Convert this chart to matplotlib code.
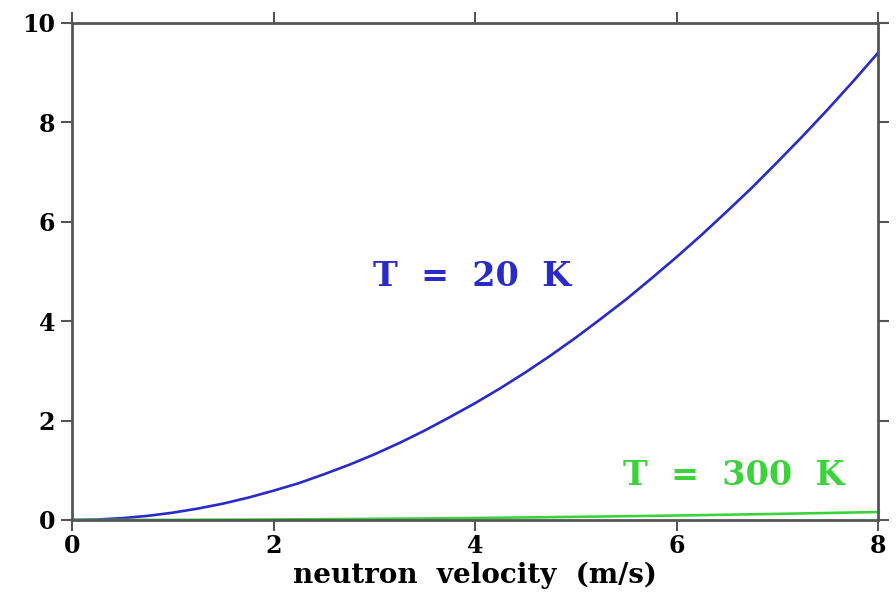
import numpy as np
import matplotlib
matplotlib.use('Agg')
import matplotlib.pyplot as plt

# neutron velocity (m/s)
velocity = [0, 0.25, 0.5, 0.75, 1, 1.25, 1.5, 1.75, 2, 2.25, 2.5, 2.75, 3,
            3.25, 3.5, 3.75, 4, 4.25, 4.5, 4.75, 5, 5.25, 5.5, 5.75, 6,
            6.25, 6.5, 6.75, 7, 7.25, 7.5, 7.75, 8]
# T = 20 K curve
f_20K = [0, 0.009, 0.037, 0.083, 0.147, 0.23, 0.33, 0.45, 0.59, 0.74, 0.92,
         1.11, 1.32, 1.55, 1.80, 2.07, 2.35, 2.65, 2.97, 3.31, 3.67, 4.05,
         4.44, 4.86, 5.29, 5.74, 6.21, 6.69, 7.20, 7.72, 8.26, 8.82, 9.40]
# T = 300 K curve
velocity_300 = [0, 0.5, 1, 1.5, 2, 2.5, 3, 3.5, 4, 4.5, 5, 5.5, 6, 6.5, 7, 7.5, 8]
f_300K = [0, 0.0006, 0.0025, 0.0057, 0.010, 0.016, 0.023, 0.031, 0.040, 0.051,
          0.063, 0.076, 0.090, 0.106, 0.123, 0.141, 0.160]

xticks = [0, 2, 4, 6, 8]
yticks = [0, 2, 4, 6, 8, 10]

plt.rcParams['font.family'] = ['DejaVu Serif']
plt.rcParams['font.weight'] = 'bold'

fig = plt.figure(figsize=(8.96, 5.97), dpi=100)
ax = fig.add_axes([0.0804, 0.129, 0.8996, 0.8325])

ax.plot(velocity, f_20K, color='#2a2ac8', lw=1.9)
ax.plot(velocity_300, f_300K, color='#3cd23c', lw=1.9)

ax.set_xlim(0, 8)
ax.set_ylim(0, 10)
ax.set_xticks(xticks)
ax.set_yticks(yticks)
ax.tick_params(direction='out', length=8, width=1.5, color='#555555',
               labelsize=17, top=True, right=True, pad=4)
ax.tick_params(axis='x', pad=2)
for s in ax.spines.values():
    s.set_color('#555555')
    s.set_linewidth(2)

ax.text(2.99, 4.70, 'T  =  20  K', color='#2a2ac8', fontsize=24, fontweight='bold')
ax.text(5.47, 0.70, 'T  =  300  K', color='#3cd23c', fontsize=24, fontweight='bold')

ax.set_xlabel('neutron  velocity  (m/s)', fontsize=20, fontweight='bold', labelpad=3)

plt.savefig('out.png', dpi=100)
